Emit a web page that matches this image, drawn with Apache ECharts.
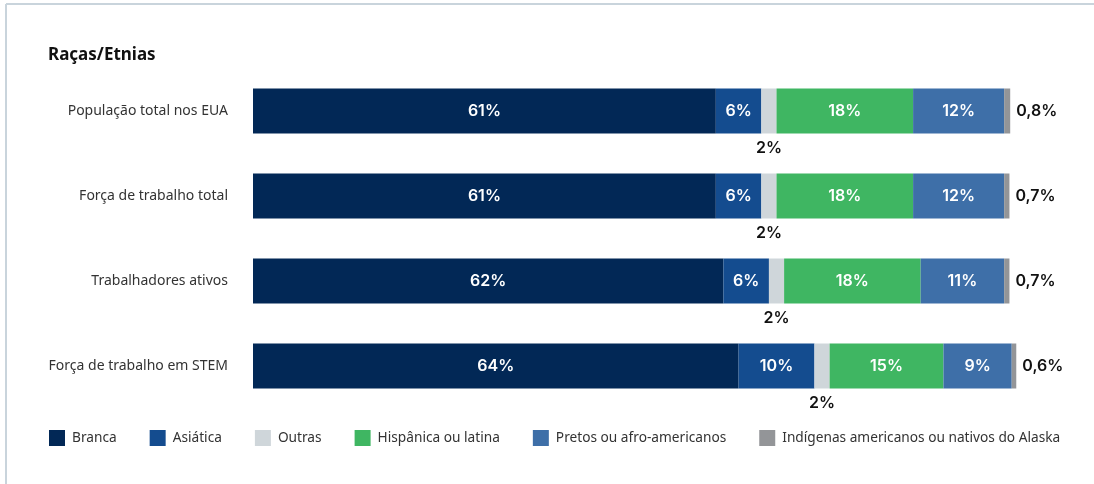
<!DOCTYPE html>
<html>
<head>
<meta charset="utf-8">
<title>Raças/Etnias</title>
<script src="https://cdn.jsdelivr.net/npm/echarts@6/dist/echarts.min.js"></script>
<style>
  html, body { margin: 0; padding: 0; background: #ffffff; }
  #chart { width: 1094px; height: 484px; }
</style>
</head>
<body>
<div id="chart"></div>
<script>
// Population groups (rows) and the share of each race/ethnicity, in percent
const categories = [
  'População total nos EUA',
  'Força de trabalho total',
  'Trabalhadores ativos',
  'Força de trabalho em STEM'
];
const seriesNames = [
  'Branca',
  'Asiática',
  'Outras',
  'Hispânica ou latina',
  'Pretos ou afro-americanos',
  'Indígenas americanos ou nativos do Alaska'
];
const branca    = [61, 61, 62, 64];
const asiatica  = [6, 6, 6, 10];
const outras    = [2, 2, 2, 2];
const hispanica = [18, 18, 18, 15];
const pretos    = [12, 12, 11, 9];
const indigenas = [0.8, 0.7, 0.7, 0.6];

const colors = ['#022856', '#144c8f', '#cfd6da', '#3fb662', '#3e6fa8', '#939598'];
const FONT_TEXT = 'Noto Sans';
const FONT_NUM = 'Inter';

const fmt = v => String(v).replace('.', ',') + '%';

const insideLabel = {
  show: true,
  position: 'inside',
  color: '#ffffff',
  fontFamily: FONT_NUM,
  fontSize: 16,
  fontWeight: 600,
  formatter: p => fmt(p.value)
};

const outsideLabelStyle = {
  show: true,
  color: '#111111',
  fontFamily: FONT_NUM,
  fontSize: 16,
  fontWeight: 600,
  formatter: p => fmt(p.value)
};

function barSeries(idx, data, label) {
  return {
    name: seriesNames[idx],
    type: 'bar',
    stack: 'total',
    barWidth: 45,
    clip: false,
    data: data,
    itemStyle: { color: colors[idx] },
    label: label,
    emphasis: { disabled: true }
  };
}

const chart = echarts.init(document.getElementById('chart'), null, { renderer: 'canvas' });

chart.setOption({
  animation: false,
  backgroundColor: '#ffffff',
  title: {
    text: 'Raças/Etnias',
    left: 48,
    top: 47,
    padding: 0,
    textStyle: {
      fontFamily: FONT_TEXT,
      fontSize: 17,
      fontWeight: 'bold',
      color: '#111111'
    }
  },
  graphic: [
    {
      type: 'line',
      shape: { x1: 6, y1: 4, x2: 1094, y2: 4 },
      style: { stroke: '#c9d4dc', lineWidth: 2 }
    },
    {
      type: 'line',
      shape: { x1: 6, y1: 4, x2: 6, y2: 484 },
      style: { stroke: '#c9d4dc', lineWidth: 2 }
    }
  ],
  legend: {
    left: 49,
    top: 430,
    padding: 0,
    itemWidth: 16,
    itemHeight: 16,
    itemGap: 33,
    icon: 'rect',
    selectedMode: false,
    textStyle: {
      fontFamily: FONT_TEXT,
      fontSize: 13.7,
      color: '#333333',
      padding: [0, 0, 0, 2]
    },
    data: seriesNames
  },
  grid: {
    left: 253,
    right: 80,
    top: 68.5,
    height: 340
  },
  xAxis: {
    type: 'value',
    min: 0,
    max: 100.3,
    show: false
  },
  yAxis: {
    type: 'category',
    inverse: true,
    data: categories,
    axisLine: { show: false },
    axisTick: { show: false },
    splitLine: { show: false },
    axisLabel: {
      margin: 25,
      fontFamily: FONT_TEXT,
      fontSize: 14,
      color: '#333333'
    }
  },
  series: [
    barSeries(0, branca, insideLabel),
    barSeries(1, asiatica, insideLabel),
    barSeries(2, outras, Object.assign({}, outsideLabelStyle, {
      position: 'bottom',
      distance: 7
    })),
    barSeries(3, hispanica, insideLabel),
    barSeries(4, pretos, insideLabel),
    barSeries(5, indigenas, Object.assign({}, outsideLabelStyle, {
      position: 'right',
      distance: 6
    }))
  ]
});
</script>
</body>
</html>
